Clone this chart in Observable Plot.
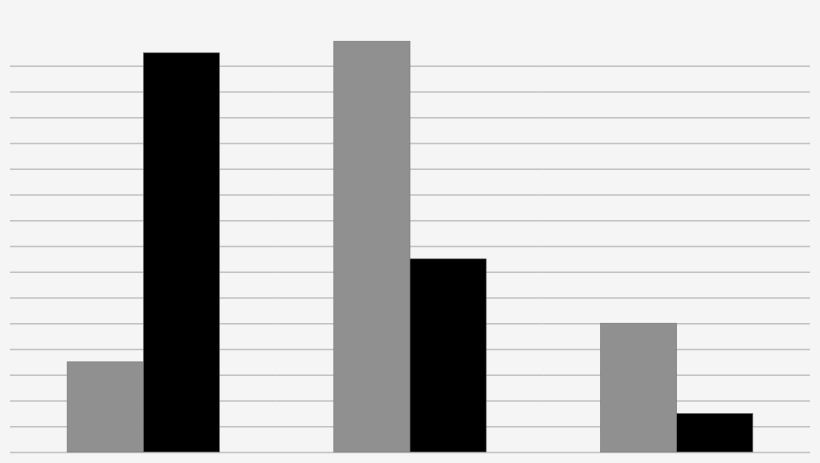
<!DOCTYPE html>
<html>
<head>
<meta charset="utf-8">
<script src="https://cdn.jsdelivr.net/npm/d3@7"></script>
<script src="https://cdn.jsdelivr.net/npm/@observablehq/plot@0.6"></script>
<style>
  html, body { margin: 0; padding: 0; background: #f5f5f5; }
  #chart svg { display: block; background: #f5f5f5; }
</style>
</head>
<body>
<div id="chart"></div>
<script>
const categories = ["A", "B", "C"];
const seriesNames = ["Series 1", "Series 2"];
const series1 = [3.5, 15.95, 5];
const series2 = [15.5, 7.5, 1.5];
const gridTicks = [0, 1, 2, 3, 4, 5, 6, 7, 8, 9, 10, 11, 12, 13, 14, 15];
const colors = ["#909090", "#000000"];

const data = [];
categories.forEach((c, i) => {
  data.push({category: c, series: seriesNames[0], value: series1[i]});
  data.push({category: c, series: seriesNames[1], value: series2[i]});
});

const chart = Plot.plot({
  width: 820,
  height: 463,
  marginTop: 0,
  marginBottom: 11,
  marginLeft: 10,
  marginRight: 10,
  style: {background: "#f5f5f5"},
  fx: {domain: categories, padding: 0, axis: null, round: false},
  x: {domain: seriesNames, paddingInner: 0, paddingOuter: 0.75, axis: null, round: false},
  y: {domain: [0, 17.55], axis: null},
  color: {domain: seriesNames, range: colors},
  marks: [
    Plot.ruleY(gridTicks, {stroke: "#c2c2c2", strokeWidth: 1.5}),
    Plot.barY(data, {
      fx: "category",
      x: "series",
      y: "value",
      fill: "series",
      stroke: "#777",
      strokeWidth: 0.6,
      inset: 0
    })
  ]
});
document.getElementById("chart").appendChild(chart);
</script>
</body>
</html>
